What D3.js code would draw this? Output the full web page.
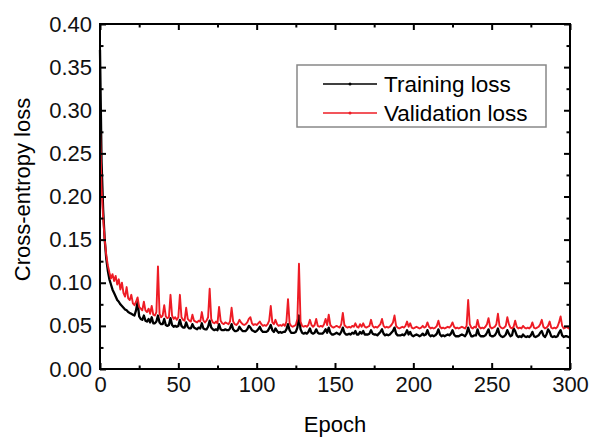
<!DOCTYPE html>
<html>
<head>
<meta charset="utf-8">
<script src="https://cdn.jsdelivr.net/npm/d3@7"></script>
<style>
  body { margin: 0; background: #fff; }
  svg { font-family: Arial, "Liberation Sans", sans-serif; }
  .tick text { font-size: 22px; fill: #111; }
</style>
</head>
<body>
<div id="chart"></div>
<script>
// loss values per epoch 0..300
var trainingLoss = [
  0.370, 0.240, 0.185, 0.150, 0.128, 0.114, 0.104, 0.098, 0.092, 0.088,
  0.084, 0.080, 0.078, 0.075, 0.073, 0.071, 0.069, 0.068, 0.066, 0.065,
  0.064, 0.063, 0.062, 0.068, 0.078, 0.061, 0.058, 0.057, 0.062, 0.056,
  0.055, 0.058, 0.054, 0.060, 0.053, 0.053, 0.055, 0.062, 0.054, 0.052,
  0.052, 0.058, 0.051, 0.050, 0.051, 0.059, 0.051, 0.049, 0.050, 0.049,
  0.050, 0.057, 0.050, 0.048, 0.048, 0.054, 0.049, 0.047, 0.047, 0.052,
  0.048, 0.047, 0.046, 0.048, 0.047, 0.053, 0.047, 0.046, 0.046, 0.049,
  0.056, 0.048, 0.046, 0.045, 0.046, 0.045, 0.052, 0.046, 0.045, 0.045,
  0.046, 0.045, 0.045, 0.047, 0.052, 0.046, 0.044, 0.044, 0.045, 0.049,
  0.046, 0.044, 0.044, 0.044, 0.046, 0.050, 0.048, 0.045, 0.044, 0.043,
  0.044, 0.046, 0.049, 0.045, 0.043, 0.043, 0.043, 0.044, 0.047, 0.051,
  0.045, 0.043, 0.047, 0.044, 0.042, 0.043, 0.042, 0.043, 0.043, 0.046,
  0.052, 0.045, 0.042, 0.042, 0.042, 0.043, 0.048, 0.062, 0.046, 0.042,
  0.041, 0.042, 0.041, 0.043, 0.047, 0.042, 0.041, 0.042, 0.046, 0.042,
  0.041, 0.041, 0.041, 0.043, 0.046, 0.042, 0.048, 0.042, 0.040, 0.040,
  0.041, 0.042, 0.041, 0.040, 0.043, 0.048, 0.042, 0.040, 0.040, 0.041,
  0.040, 0.042, 0.041, 0.044, 0.040, 0.040, 0.043, 0.041, 0.044, 0.040,
  0.040, 0.040, 0.041, 0.045, 0.041, 0.040, 0.040, 0.039, 0.041, 0.043,
  0.046, 0.041, 0.039, 0.040, 0.039, 0.040, 0.042, 0.044, 0.048, 0.041,
  0.039, 0.039, 0.039, 0.040, 0.039, 0.041, 0.045, 0.040, 0.043, 0.039,
  0.038, 0.039, 0.040, 0.039, 0.038, 0.039, 0.041, 0.039, 0.040, 0.045,
  0.040, 0.038, 0.039, 0.038, 0.039, 0.041, 0.046, 0.040, 0.038, 0.039,
  0.038, 0.039, 0.040, 0.039, 0.041, 0.045, 0.040, 0.038, 0.038, 0.038,
  0.039, 0.040, 0.039, 0.038, 0.041, 0.048, 0.042, 0.038, 0.038, 0.039,
  0.039, 0.046, 0.040, 0.038, 0.038, 0.038, 0.039, 0.042, 0.046, 0.039,
  0.038, 0.038, 0.039, 0.042, 0.047, 0.040, 0.038, 0.037, 0.038, 0.040,
  0.045, 0.041, 0.038, 0.039, 0.047, 0.044, 0.039, 0.037, 0.038, 0.037,
  0.040, 0.038, 0.037, 0.038, 0.037, 0.039, 0.043, 0.038, 0.037, 0.038,
  0.039, 0.042, 0.044, 0.039, 0.037, 0.040, 0.046, 0.043, 0.038, 0.037,
  0.038, 0.037, 0.038, 0.042, 0.045, 0.039, 0.037, 0.038, 0.038, 0.037,
  0.037
];

var validationLoss = [
  0.280, 0.210, 0.175, 0.150, 0.132, 0.120, 0.112, 0.105, 0.110, 0.102,
  0.108, 0.098, 0.104, 0.092, 0.100, 0.088, 0.084, 0.095, 0.082, 0.080,
  0.086, 0.076, 0.074, 0.078, 0.083, 0.072, 0.070, 0.068, 0.078, 0.068,
  0.066, 0.070, 0.064, 0.073, 0.063, 0.062, 0.066, 0.119, 0.064, 0.060,
  0.062, 0.074, 0.061, 0.059, 0.060, 0.086, 0.062, 0.058, 0.060, 0.057,
  0.060, 0.086, 0.060, 0.057, 0.056, 0.071, 0.058, 0.056, 0.055, 0.063,
  0.056, 0.055, 0.054, 0.056, 0.055, 0.066, 0.056, 0.054, 0.056, 0.060,
  0.093, 0.058, 0.054, 0.053, 0.055, 0.053, 0.072, 0.056, 0.053, 0.052,
  0.054, 0.053, 0.052, 0.055, 0.071, 0.055, 0.052, 0.051, 0.053, 0.057,
  0.054, 0.052, 0.051, 0.052, 0.054, 0.058, 0.060, 0.053, 0.051, 0.052,
  0.051, 0.053, 0.055, 0.052, 0.050, 0.051, 0.050, 0.052, 0.056, 0.073,
  0.054, 0.052, 0.057, 0.052, 0.050, 0.051, 0.050, 0.052, 0.050, 0.055,
  0.081, 0.053, 0.050, 0.049, 0.050, 0.051, 0.058, 0.122, 0.055, 0.050,
  0.049, 0.050, 0.049, 0.051, 0.057, 0.051, 0.049, 0.051, 0.058, 0.050,
  0.049, 0.050, 0.049, 0.052, 0.058, 0.051, 0.063, 0.051, 0.049, 0.048,
  0.049, 0.050, 0.049, 0.048, 0.052, 0.065, 0.051, 0.049, 0.048, 0.049,
  0.048, 0.050, 0.049, 0.053, 0.049, 0.048, 0.052, 0.049, 0.053, 0.049,
  0.048, 0.049, 0.050, 0.057, 0.050, 0.048, 0.049, 0.048, 0.050, 0.052,
  0.058, 0.050, 0.048, 0.049, 0.048, 0.049, 0.051, 0.054, 0.062, 0.050,
  0.048, 0.047, 0.048, 0.049, 0.048, 0.050, 0.055, 0.049, 0.053, 0.048,
  0.047, 0.048, 0.049, 0.048, 0.047, 0.048, 0.050, 0.048, 0.049, 0.054,
  0.049, 0.047, 0.048, 0.047, 0.048, 0.050, 0.056, 0.049, 0.047, 0.048,
  0.047, 0.048, 0.049, 0.048, 0.050, 0.054, 0.049, 0.047, 0.048, 0.047,
  0.048, 0.049, 0.048, 0.047, 0.050, 0.080, 0.052, 0.048, 0.047, 0.049,
  0.048, 0.057, 0.049, 0.047, 0.048, 0.047, 0.049, 0.052, 0.059, 0.049,
  0.047, 0.048, 0.049, 0.052, 0.064, 0.050, 0.048, 0.047, 0.048, 0.050,
  0.060, 0.052, 0.048, 0.047, 0.049, 0.056, 0.049, 0.047, 0.048, 0.047,
  0.050, 0.048, 0.047, 0.048, 0.047, 0.049, 0.054, 0.048, 0.047, 0.048,
  0.049, 0.052, 0.057, 0.049, 0.047, 0.048, 0.050, 0.055, 0.048, 0.047,
  0.048, 0.047, 0.049, 0.054, 0.061, 0.050, 0.047, 0.048, 0.049, 0.047,
  0.048
];

var seriesNames = ["Training loss", "Validation loss"];
var seriesColors = ["#000000", "#ee1c25"];
var xTicks = [0, 50, 100, 150, 200, 250, 300];
var xMinorTicks = [25, 75, 125, 175, 225, 275];
var yTicks = [0, 0.05, 0.10, 0.15, 0.20, 0.25, 0.30, 0.35, 0.40];
var yMinorTicks = [0.025, 0.075, 0.125, 0.175, 0.225, 0.275, 0.325, 0.375];

var W = 597, H = 438;
var margin = {top: 24, right: 27, bottom: 69, left: 100};
var width = W - margin.left - margin.right,
    height = H - margin.top - margin.bottom;

var xScale = d3.scaleLinear().domain([0, 300]).range([0, width]);
var yScale = d3.scaleLinear().domain([0, 0.40]).range([height, 0]);

var svg = d3.select("#chart").append("svg")
    .attr("width", W)
    .attr("height", H)
  .append("g")
    .attr("transform", "translate(" + margin.left + "," + margin.top + ")");

// data lines
var valueline = d3.line()
    .x(function(d, i) { return xScale(i); })
    .y(function(d) { return yScale(d); });

[trainingLoss, validationLoss].forEach(function(s, k) {
  svg.append("path")
      .datum(s)
      .attr("fill", "none")
      .attr("stroke", seriesColors[k])
      .attr("stroke-width", k === 0 ? 2.3 : 1.9)
      .attr("stroke-linejoin", "round")
      .attr("d", valueline);
});

// axes: ticks pointing inward, mirrored on top and right
function styleAxis(g) {
  g.select(".domain").remove();
  g.selectAll(".tick line").attr("stroke", "#000").attr("stroke-width", 2);
}

svg.append("g")
    .attr("transform", "translate(0," + height + ")")
    .call(d3.axisBottom(xScale).tickValues(xTicks).tickSize(-6).tickPadding(7))
    .call(styleAxis);
svg.append("g")
    .attr("transform", "translate(0," + height + ")")
    .call(d3.axisBottom(xScale).tickValues(xMinorTicks).tickSize(-3.5).tickFormat(""))
    .call(styleAxis);
svg.append("g")
    .call(d3.axisTop(xScale).tickValues(xTicks).tickSize(-6).tickFormat(""))
    .call(styleAxis);
svg.append("g")
    .call(d3.axisTop(xScale).tickValues(xMinorTicks).tickSize(-3.5).tickFormat(""))
    .call(styleAxis);

svg.append("g")
    .call(d3.axisLeft(yScale).tickValues(yTicks).tickSize(-6).tickPadding(8)
      .tickFormat(d3.format(".2f")))
    .call(styleAxis);
svg.append("g")
    .call(d3.axisLeft(yScale).tickValues(yMinorTicks).tickSize(-3.5).tickFormat(""))
    .call(styleAxis);
svg.append("g")
    .attr("transform", "translate(" + width + ",0)")
    .call(d3.axisRight(yScale).tickValues(yTicks).tickSize(-6).tickFormat(""))
    .call(styleAxis);
svg.append("g")
    .attr("transform", "translate(" + width + ",0)")
    .call(d3.axisRight(yScale).tickValues(yMinorTicks).tickSize(-3.5).tickFormat(""))
    .call(styleAxis);

// frame
svg.append("rect")
    .attr("width", width)
    .attr("height", height)
    .attr("fill", "none")
    .attr("stroke", "#000")
    .attr("stroke-width", 2);

// axis titles
svg.append("text")
    .attr("x", width / 2)
    .attr("y", height + 63)
    .attr("text-anchor", "middle")
    .style("font-size", "22px")
    .text("Epoch");

svg.append("text")
    .attr("transform", "rotate(-90)")
    .attr("x", -(height / 2) + 7)
    .attr("y", -70)
    .attr("text-anchor", "middle")
    .style("font-size", "22px")
    .text("Cross-entropy loss");

// legend
var legend = svg.append("g")
    .attr("transform", "translate(" + (297 - margin.left) + "," + (65 - margin.top) + ")");

legend.append("rect")
    .attr("width", 249)
    .attr("height", 62)
    .attr("fill", "#fff")
    .attr("stroke", "#888")
    .attr("stroke-width", 1.5);

seriesNames.forEach(function(name, i) {
  var y = 19 + i * 29;
  legend.append("line")
      .attr("x1", 26).attr("x2", 80)
      .attr("y1", y).attr("y2", y)
      .attr("stroke", seriesColors[i])
      .attr("stroke-width", 1.6);
  legend.append("circle")
      .attr("cx", 53).attr("cy", y).attr("r", 1.5)
      .attr("fill", seriesColors[i]);
  legend.append("text")
      .attr("x", 87)
      .attr("y", y)
      .attr("dy", "0.36em")
      .style("font-size", "22.5px")
      .text(name);
});
</script>
</body>
</html>
